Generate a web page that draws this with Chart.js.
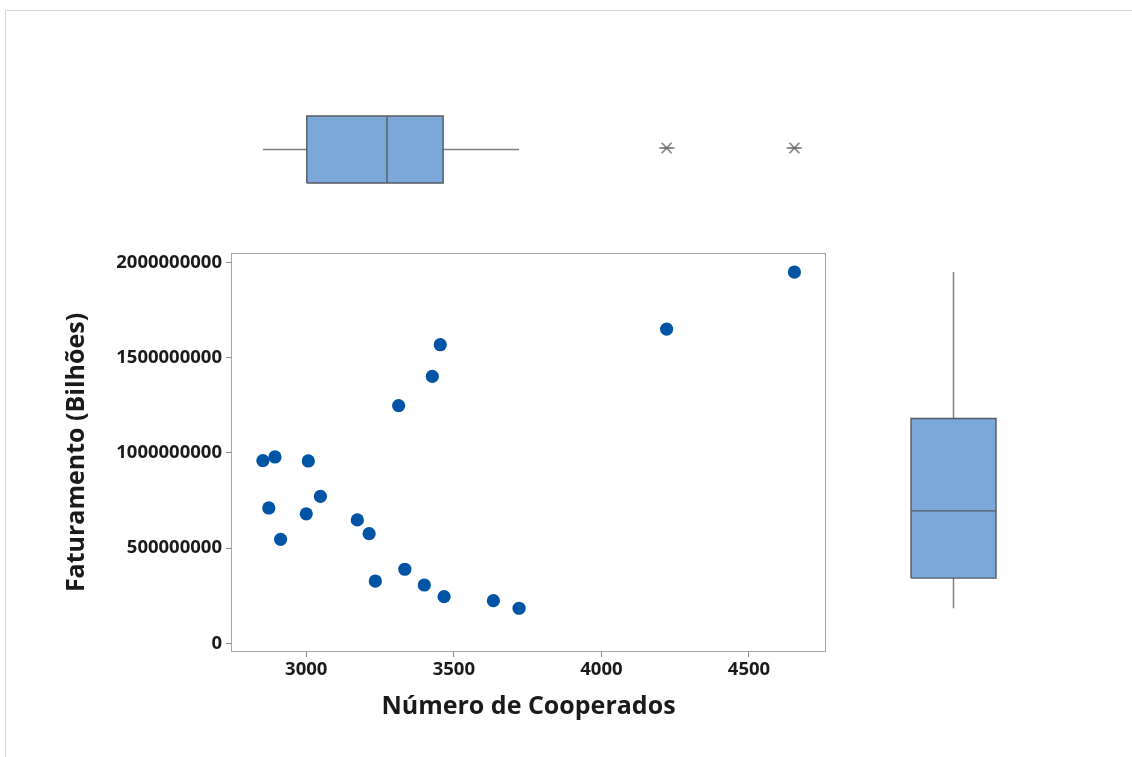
<!DOCTYPE html>
<html>
<head>
<meta charset="utf-8">
<title>Faturamento x Número de Cooperados</title>
<script src="https://cdn.jsdelivr.net/npm/chart.js@4.4.1/dist/chart.umd.min.js"></script>
<style>
  html, body { margin: 0; padding: 0; background: #ffffff; }
  #page { position: relative; width: 1132px; height: 757px; overflow: hidden; }
  #edge { position: absolute; left: 5px; top: 10px; right: -2px; bottom: -2px;
          border-top: 1px solid #d6d6d6; border-left: 1px solid #d6d6d6; }
  canvas { position: absolute; }
  #main { left: 0; top: 0; }
  #topBox { left: 231px; top: 100px; }
  #sideBox { left: 880px; top: 253px; }
</style>
</head>
<body>
<div id="page">
  <div id="edge"></div>
  <canvas id="main" width="1132" height="757"></canvas>
  <canvas id="topBox" width="595" height="100"></canvas>
  <canvas id="sideBox" width="150" height="399"></canvas>
</div>
<script>
// Número de cooperados de cada cooperativa
const cooperados = [4654, 4221, 3454, 3427, 3313, 2853, 2894, 3007, 3048, 2873,
                    3000, 2913, 3173, 3213, 3234, 3334, 3400, 3467, 3634, 3721];
// Faturamento anual correspondente (R$)
const faturamento = [1951000000, 1651000000, 1569000000, 1403000000, 1249000000,
                     960000000, 979000000, 958000000, 772000000, 711000000,
                     680000000, 546000000, 648000000, 576000000, 327000000,
                     389000000, 306000000, 245000000, 224000000, 184000000];
// Marcas dos eixos
const xTicks = [3000, 3500, 4000, 4500];
const yTicks = [0, 500000000, 1000000000, 1500000000, 2000000000];
const xTitle = 'Número de Cooperados';
const yTitle = 'Faturamento (Bilhões)';

// Faixas dos eixos
const X_MIN = 2745, X_MAX = 4761;
const Y_MIN = -46000000, Y_MAX = 2051000000;

const FONT = '"Open Sans", "Noto Sans", sans-serif';
const DOT = '#0054a6';
const BOX_FILL = '#7ba7d9';
const BOX_EDGE = '#555a60';
const WHISKER = '#7f7f7f';
const FRAME = '#a6a6a6';

// Quartis no método (n+1)p, com bigodes até o último valor dentro de 1,5·AIQ
function boxStats(values) {
  const s = values.slice().sort((a, b) => a - b);
  const n = s.length;
  const q = p => {
    const pos = p * (n + 1);
    const i = Math.floor(pos);
    if (i < 1) return s[0];
    if (i >= n) return s[n - 1];
    return s[i - 1] + (pos - i) * (s[i] - s[i - 1]);
  };
  const q1 = q(0.25), med = q(0.5), q3 = q(0.75);
  const iqr = q3 - q1;
  const lo = q1 - 1.5 * iqr, hi = q3 + 1.5 * iqr;
  const inside = s.filter(v => v >= lo && v <= hi);
  return { q1, med, q3, wLo: inside[0], wHi: inside[inside.length - 1],
           outliers: s.filter(v => v < lo || v > hi) };
}

// Asterisco usado para valores discrepantes
function asteriskMark() {
  const c = document.createElement('canvas');
  c.width = 16; c.height = 12;
  const g = c.getContext('2d');
  g.strokeStyle = '#6a6a6a';
  g.lineWidth = 1.3;
  g.beginPath();
  g.moveTo(0.5, 6); g.lineTo(15.5, 6);
  g.moveTo(3, 0.8); g.lineTo(13, 11.2);
  g.moveTo(13, 0.8); g.lineTo(3, 11.2);
  g.stroke();
  return c;
}

// Moldura da área do gráfico
const framePlugin = {
  id: 'frame',
  afterDatasetsDraw(chart) {
    const a = chart.chartArea, ctx = chart.ctx;
    ctx.save();
    ctx.strokeStyle = FRAME;
    ctx.lineWidth = 1;
    ctx.strokeRect(Math.round(a.left) + 0.5, Math.round(a.top) + 0.5,
                   Math.round(a.right - a.left) - 1, Math.round(a.bottom - a.top) - 1);
    ctx.restore();
  }
};

const tickFont = { family: FONT, size: 18.5, weight: 'bold' };
const titleFont = { family: FONT, size: 25, weight: 'bold' };

// Diagrama de dispersão principal
new Chart(document.getElementById('main'), {
  type: 'scatter',
  data: {
    datasets: [{
      data: cooperados.map((x, i) => ({ x, y: faturamento[i] })),
      backgroundColor: DOT,
      borderColor: DOT,
      pointRadius: 6.6,
      pointHoverRadius: 6.6,
      borderWidth: 0
    }]
  },
  options: {
    responsive: false,
    animation: false,
    devicePixelRatio: 1,
    layout: { autoPadding: false, padding: { left: 0, top: 253, right: 306, bottom: 0 } },
    plugins: { legend: { display: false }, tooltip: { enabled: false } },
    scales: {
      x: {
        type: 'linear', min: X_MIN, max: X_MAX,
        afterBuildTicks: s => { s.ticks = xTicks.map(v => ({ value: v })); },
        afterFit: s => { s.height = 757 - 652; },
        grid: { drawOnChartArea: false, drawTicks: true, tickLength: 5, color: '#8c8c8c' },
        border: { display: false },
        ticks: { font: tickFont, color: '#1a1a1a', padding: 2, maxRotation: 0,
                 callback: v => String(v) },
        title: { display: true, text: xTitle, font: titleFont, color: '#1a1a1a',
                 padding: { top: 0, bottom: 35 } }
      },
      y: {
        type: 'linear', min: Y_MIN, max: Y_MAX,
        afterBuildTicks: s => { s.ticks = yTicks.map(v => ({ value: v })); },
        afterFit: s => { s.width = 231; },
        grid: { drawOnChartArea: false, drawTicks: true, tickLength: 5, color: '#8c8c8c' },
        border: { display: false },
        ticks: { font: tickFont, color: '#1a1a1a', padding: 4,
                 callback: v => String(v) },
        title: { display: true, text: yTitle, font: titleFont, color: '#1a1a1a',
                 padding: { top: 62, bottom: 0 } }
      }
    }
  },
  plugins: [framePlugin]
});

// Conjuntos auxiliares dos box plots; 'order' menor fica por cima
const lineSet = (pts, color, width, order) => ({
  data: pts, showLine: true, borderColor: color, borderWidth: width, order,
  pointRadius: 0, pointHoverRadius: 0, fill: false
});
const boxSet = pts => ({
  data: pts, showLine: true, borderColor: BOX_EDGE, borderWidth: 1.4, order: 2,
  backgroundColor: BOX_FILL, fill: 'shape', pointRadius: 0, pointHoverRadius: 0
});
const outlierSet = pts => ({
  data: pts, order: 0, pointStyle: asteriskMark(), pointRadius: 7, pointHoverRadius: 7
});
const quietOptions = (xr, yr) => ({
  responsive: false, animation: false, devicePixelRatio: 1,
  layout: { autoPadding: false, padding: 0 },
  plugins: { legend: { display: false }, tooltip: { enabled: false } },
  scales: {
    x: { type: 'linear', min: xr[0], max: xr[1], display: false },
    y: { type: 'linear', min: yr[0], max: yr[1], display: false }
  }
});

// Box plot marginal do número de cooperados (horizontal)
const bx = boxStats(cooperados);
const T_LO = 17, T_HI = 84, T_MID = 50.5;
new Chart(document.getElementById('topBox'), {
  type: 'scatter',
  data: {
    datasets: [
      lineSet([{ x: bx.wLo, y: T_MID }, { x: bx.q1, y: T_MID }], WHISKER, 1.5, 3),
      lineSet([{ x: bx.q3, y: T_MID }, { x: bx.wHi, y: T_MID }], WHISKER, 1.5, 3),
      boxSet([{ x: bx.q1, y: T_LO }, { x: bx.q3, y: T_LO }, { x: bx.q3, y: T_HI },
              { x: bx.q1, y: T_HI }, { x: bx.q1, y: T_LO }]),
      lineSet([{ x: bx.med, y: T_LO }, { x: bx.med, y: T_HI }], BOX_EDGE, 1.4, 1),
      outlierSet(bx.outliers.map(v => ({ x: v, y: T_MID + 1.5 })))
    ]
  },
  options: quietOptions([X_MIN, X_MAX], [0, 100])
});

// Box plot marginal do faturamento (vertical)
const by = boxStats(faturamento);
const S_LO = 31, S_HI = 116, S_MID = 73.5;
new Chart(document.getElementById('sideBox'), {
  type: 'scatter',
  data: {
    datasets: [
      lineSet([{ x: S_MID, y: by.wLo }, { x: S_MID, y: by.q1 }], WHISKER, 1.5, 3),
      lineSet([{ x: S_MID, y: by.q3 }, { x: S_MID, y: by.wHi }], WHISKER, 1.5, 3),
      boxSet([{ x: S_LO, y: by.q1 }, { x: S_HI, y: by.q1 }, { x: S_HI, y: by.q3 },
              { x: S_LO, y: by.q3 }, { x: S_LO, y: by.q1 }]),
      lineSet([{ x: S_LO, y: by.med }, { x: S_HI, y: by.med }], BOX_EDGE, 1.4, 1),
      outlierSet(by.outliers.map(v => ({ x: S_MID, y: v })))
    ]
  },
  options: quietOptions([0, 150], [Y_MIN, Y_MAX])
});
</script>
</body>
</html>
